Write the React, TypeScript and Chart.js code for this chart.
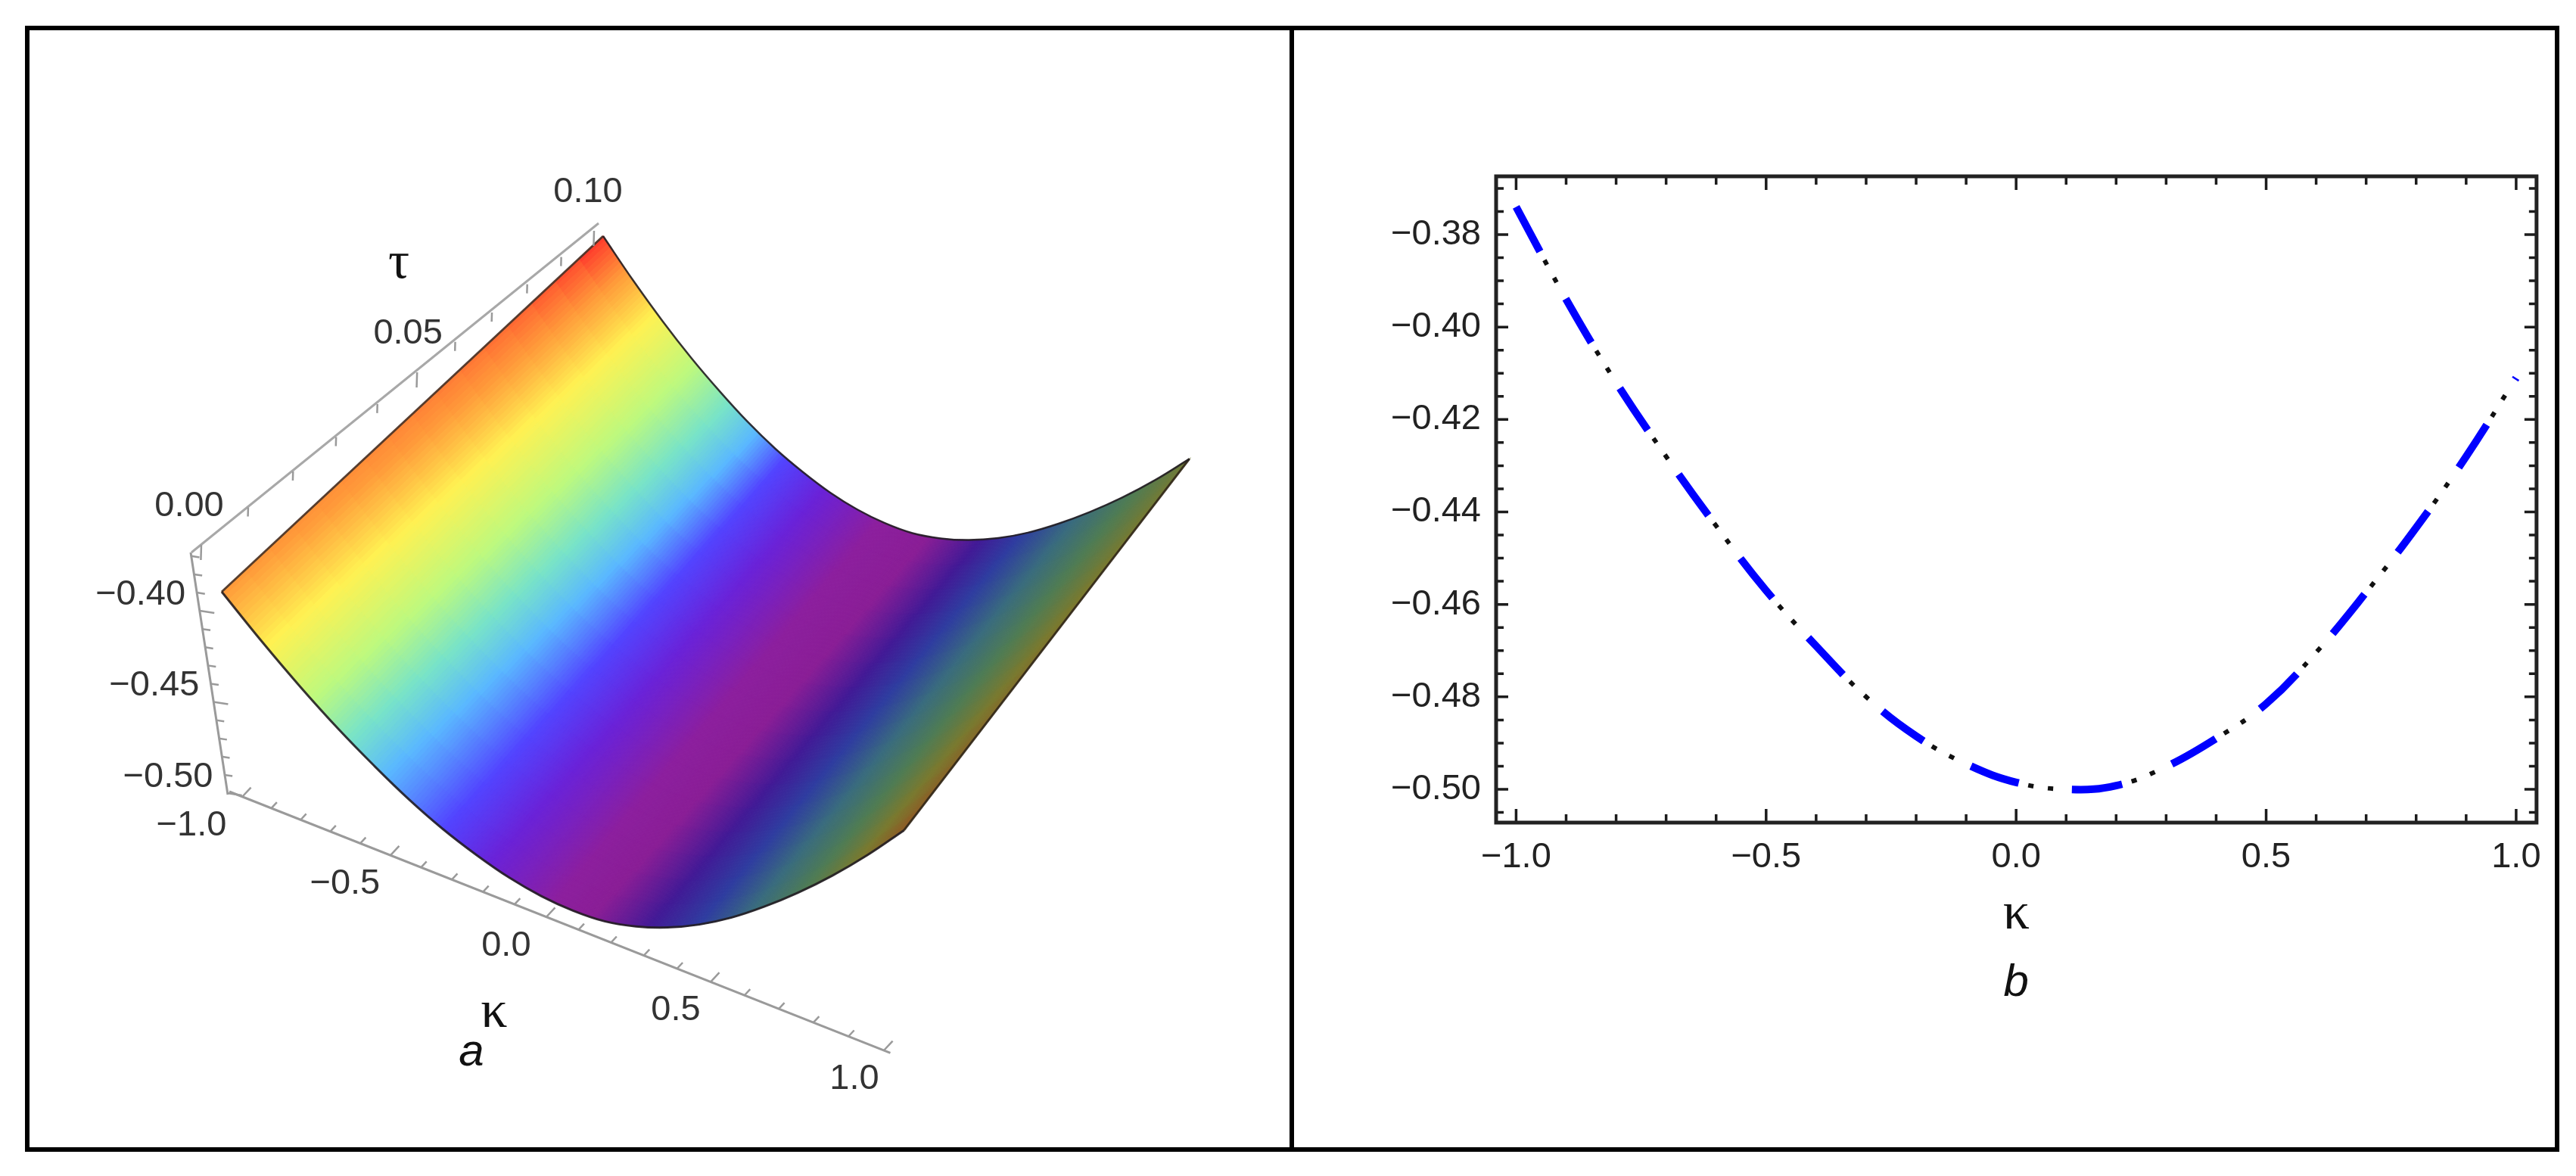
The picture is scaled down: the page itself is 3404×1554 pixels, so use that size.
import React, { useEffect, useRef } from "react";
import { Chart, registerables } from "chart.js";

Chart.register(...registerables);

// ---------- data ----------
const curveKappa = [-1, -0.9, -0.8, -0.7, -0.6, -0.5, -0.4, -0.3, -0.2, -0.1, 0, 0.1, 0.2, 0.3, 0.4, 0.5, 0.6, 0.7, 0.8, 0.9, 1];
const curveValue = [-0.374, -0.394, -0.412, -0.428, -0.443, -0.457, -0.469, -0.48, -0.4885, -0.4945, -0.4985, -0.5, -0.4992, -0.4951, -0.489, -0.4815, -0.4704, -0.4574, -0.4434, -0.428, -0.411];
const surfaceZ = [-0.374, -0.3945, -0.413, -0.4295, -0.444, -0.457, -0.468, -0.477, -0.4845, -0.49, -0.4935, -0.495, -0.4937, -0.4903, -0.4848, -0.4772, -0.4675, -0.4562, -0.4432, -0.4282, -0.411];
const tauRange = [0, 0.1];
const kappaAxisTicks = [-1, -0.9, -0.8, -0.7, -0.6, -0.5, -0.4, -0.3, -0.2, -0.1, 0, 0.1, 0.2, 0.3, 0.4, 0.5, 0.6, 0.7, 0.8, 0.9, 1];
const tauAxisTicks = [0, 0.01, 0.02, 0.03, 0.04, 0.05, 0.06, 0.07, 0.08, 0.09, 0.1];
const zAxisTicks = [-0.37, -0.38, -0.39, -0.4, -0.41, -0.42, -0.43, -0.44, -0.45, -0.46, -0.47, -0.48, -0.49, -0.5];
const kappaAxisLabels = [-1, -0.5, 0, 0.5, 1];
const tauAxisLabels = [0, 0.05, 0.1];
const zAxisLabels = [-0.4, -0.45, -0.5];

// colour bands of the surface: where each band sits along kappa on the two edges
const bandColors = ["#FF2E2A", "#FF9A3A", "#FFF152", "#BDF97E", "#78E3C8", "#5AB8FF", "#5244FF", "#6A22D8", "#8C1F9E", "#8A1E96", "#421A96", "#2F3DA0", "#3A6C7E", "#4F7C55", "#7A7A30", "#8F5A25"];
const bandsAtTauMin = [-1.3, -1, -0.89, -0.77, -0.67, -0.57, -0.4, -0.26, -0.06, 0.06, 0.24, 0.4, 0.56, 0.72, 0.87, 1];
const bandsAtTauMax = [-1, -0.92, -0.82, -0.68, -0.56, -0.46, -0.36, -0.22, -0.02, 0.16, 0.34, 0.48, 0.66, 0.84, 1.05, 1.3];

const SANS = '"Liberation Sans"';
const SERIF = '"Liberation Serif"';
const LABEL_COLOR = "#333333";

// ---------- camera of the 3D view (kappa, tau, z) -> view units ----------
const lerp = (a: number, b: number, t: number) => a + (b - a) * t;
const cam = {
  a: [293, 782], // kappa -1, tau min
  b: [1204, 1004], // kappa 1, tau min
  c: [797, 312], // kappa -1, tau max
  d: [1587, 524], // kappa 1, tau max
  nadir: [850, 4500],
  drop: [0.72, 0.56],
  zRef: -0.374,
};
function project(k: number, tau: number, z: number): [number, number] {
  const t = (k + 1) / 2;
  const w = (tau - tauRange[0]) / (tauRange[1] - tauRange[0]);
  const qx = lerp(lerp(cam.a[0], cam.b[0], t), lerp(cam.c[0], cam.d[0], t), w);
  const qy = lerp(lerp(cam.a[1], cam.b[1], t), lerp(cam.c[1], cam.d[1], t), w);
  const d = lerp(cam.drop[0], cam.drop[1], w) * (cam.zRef - z);
  return [qx + (cam.nadir[0] - qx) * d, qy + (cam.nadir[1] - qy) * d];
}
function zAt(k: number) {
  const n = surfaceZ.length;
  const f = Math.min(n - 1 - 1e-6, Math.max(0, (k - curveKappa[0]) / 0.1));
  const i = Math.floor(f);
  const u = f - i;
  const p1 = surfaceZ[i];
  const p2 = surfaceZ[i + 1];
  const p0 = i > 0 ? surfaceZ[i - 1] : 2 * p1 - p2;
  const p3 = i + 2 < n ? surfaceZ[i + 2] : 2 * p2 - p1;
  return 0.5 * (2 * p1 + (p2 - p0) * u + (2 * p0 - 5 * p1 + 4 * p2 - p3) * u * u + (3 * p1 - p0 - 3 * p2 + p3) * u * u * u);
}
const rgb = (h: string) => [1, 3, 5].map((i) => parseInt(h.slice(i, i + 2), 16));
const bandRgb = bandColors.map(rgb);
function colorAt(k: number, tau: number) {
  const w = tau / tauRange[1];
  const stops = bandsAtTauMin.map((v, i) => lerp(v, bandsAtTauMax[i], w));
  let i = 0;
  while (i < stops.length - 2 && k > stops[i + 1]) i++;
  const u = Math.max(0, Math.min(1, (k - stops[i]) / (stops[i + 1] - stops[i])));
  const a = bandRgb[i];
  const b = bandRgb[i + 1];
  return `rgb(${Math.round(lerp(a[0], b[0], u))},${Math.round(lerp(a[1], b[1], u))},${Math.round(lerp(a[2], b[2], u))})`;
}

// 3D axes: ends in view units, plus a perspective ratio along the axis
const axisPoint = (from: number[], to: number[], u: number, r: number): [number, number] => {
  const p = u / (u + r * (1 - u));
  return [lerp(from[0], to[0], p), lerp(from[1], to[1], p)];
};
const kappaAxis = (k: number) => axisPoint([320, 1053], [1168, 1388], (k + 1) / 2, 1.11);
const tauAxis = (t: number) => axisPoint([266, 720], [785, 305], t / 0.1, 0.82);
const zAxis = (z: number): [number, number] => {
  const u = (-0.368 - z) / (-0.368 + 0.5);
  return [lerp(252, 300, u), lerp(730, 1048, u)];
};

const fmt = (v: number, d: number) => v.toFixed(d).replace("-", "\u2212");
const isMultiple = (v: number, s: number) => Math.abs(v / s - Math.round(v / s)) < 1e-6;

const surfacePlugin = {
  id: "surface",
  beforeDatasetsDraw(chart: any) {
    const { ctx, scales } = chart;
    const NK = 240;
    const NT = 16;
    const px = (k: number, tau: number) => {
      const p = project(k, tau, zAt(k));
      return [scales.x.getPixelForValue(p[0]), scales.y.getPixelForValue(p[1])];
    };
    ctx.save();
    ctx.lineWidth = 1.2;
    for (let i = 0; i < NK; i++) {
      const k0 = -1 + (2 * i) / NK;
      const k1 = -1 + (2 * (i + 1)) / NK;
      for (let j = 0; j < NT; j++) {
        const t0 = (tauRange[1] * j) / NT;
        const t1 = (tauRange[1] * (j + 1)) / NT;
        const col = colorAt((k0 + k1) / 2, (t0 + t1) / 2);
        const q = [px(k0, t0), px(k1, t0), px(k1, t1), px(k0, t1)];
        ctx.beginPath();
        ctx.moveTo(q[0][0], q[0][1]);
        for (let m = 1; m < 4; m++) ctx.lineTo(q[m][0], q[m][1]);
        ctx.closePath();
        ctx.fillStyle = col;
        ctx.strokeStyle = col;
        ctx.fill();
        ctx.stroke();
      }
    }
    ctx.restore();
  },
  afterDatasetsDraw(chart: any) {
    const { ctx, scales } = chart;
    const X = (v: number) => scales.x.getPixelForValue(v);
    const Y = (v: number) => scales.y.getPixelForValue(v);
    const tick = (p: number[], dir: number[], len: number) => {
      ctx.beginPath();
      ctx.moveTo(X(p[0]), Y(p[1]));
      ctx.lineTo(X(p[0] + dir[0] * len), Y(p[1] + dir[1] * len));
      ctx.stroke();
    };
    ctx.save();
    ctx.strokeStyle = "#9a9a9a";
    ctx.lineWidth = 2.5;
    kappaAxisTicks.forEach((k) => tick(kappaAxis(k), [0.68, -0.73], isMultiple(k, 0.5) ? 17 : 11));
    tauAxisTicks.forEach((t) => tick(tauAxis(t), [-0.03, 1], isMultiple(t, 0.05) ? 20 : 12));
    zAxisTicks.forEach((z) => tick(zAxis(z), [0.98, 0.15], isMultiple(z, 0.05) ? 20 : 11));
    ctx.textAlign = "center";
    ctx.textBaseline = "middle";
    ctx.fillStyle = LABEL_COLOR;
    ctx.font = `47px ${SANS}`;
    kappaAxisLabels.forEach((k) => {
      const p = kappaAxis(k);
      ctx.fillText(fmt(k, 1), X(p[0] + lerp(-67, -39, (k + 1) / 2)), Y(p[1] + 38));
    });
    tauAxisLabels.forEach((t) => {
      const p = tauAxis(t);
      ctx.fillText(fmt(t, 2), X(p[0] + lerp(-16, -8, t / 0.1)), Y(p[1] - 51));
    });
    zAxisLabels.forEach((z) => {
      const p = zAxis(z);
      ctx.fillText(fmt(z, 2), X(p[0] - 78), Y(p[1] - 21));
    });
    ctx.fillStyle = "#111";
    ctx.font = `70px ${SERIF}`;
    ctx.fillText("\u03C4", X(527), Y(349));
    ctx.fillText("\u03BA", X(653), Y(1339));
    ctx.font = `italic 60px ${SANS}`;
    ctx.fillText("a", X(623), Y(1391));
    ctx.restore();
  },
};

const framePlugin = {
  id: "frameTicks",
  afterDatasetsDraw(chart: any) {
    const { ctx, chartArea: a, scales } = chart;
    ctx.save();
    ctx.strokeStyle = "#1c1c1c";
    ctx.lineWidth = 3.5;
    scales.x.ticks.forEach((t: any) => {
      const p = scales.x.getPixelForValue(t.value);
      const l = isMultiple(t.value, 0.5) ? 18 : 11;
      ctx.beginPath();
      ctx.moveTo(p, a.top);
      ctx.lineTo(p, a.top + l);
      ctx.moveTo(p, a.bottom);
      ctx.lineTo(p, a.bottom - l);
      ctx.stroke();
    });
    scales.y.ticks.forEach((t: any) => {
      const p = scales.y.getPixelForValue(t.value);
      const l = isMultiple(t.value, 0.02) ? 16 : 10;
      ctx.beginPath();
      ctx.moveTo(a.left, p);
      ctx.lineTo(a.left + l, p);
      ctx.moveTo(a.right, p);
      ctx.lineTo(a.right - l, p);
      ctx.stroke();
    });
    ctx.lineWidth = 5;
    ctx.strokeStyle = "#222";
    ctx.strokeRect(a.left, a.top, a.right - a.left, a.bottom - a.top);
    ctx.fillStyle = "#111";
    ctx.textAlign = "center";
    ctx.textBaseline = "middle";
    ctx.font = `italic 60px ${SANS}`;
    ctx.fillText("b", scales.x.getPixelForValue(0), 1259);
    ctx.restore();
  },
};

const edge = (pts: [number, number][], color: string, width: number, tension: number) => ({
  data: pts.map((p) => ({ x: p[0], y: p[1] })),
  showLine: true,
  pointRadius: 0,
  borderColor: color,
  borderWidth: width,
  tension,
  fill: false,
});

function makeLeft(canvas: HTMLCanvasElement) {
  const W = canvas.width;
  const H = canvas.height;
  const tMin = tauRange[0];
  const tMax = tauRange[1];
  const ek = curveKappa[0];
  const eK = curveKappa[curveKappa.length - 1];
  return new Chart(canvas, {
    type: "scatter",
    data: {
      datasets: [
        edge(curveKappa.map((k, i) => project(k, tMin, surfaceZ[i])), "rgba(35,30,35,0.9)", 3, 0.4),
        edge(curveKappa.map((k, i) => project(k, tMax, surfaceZ[i])), "rgba(35,30,35,0.9)", 2.5, 0.4),
        edge([project(ek, tMin, surfaceZ[0]), project(ek, tMax, surfaceZ[0])], "rgba(70,50,40,0.9)", 3, 0),
        edge([project(eK, tMin, surfaceZ[20]), project(eK, tMax, surfaceZ[20])], "rgba(50,40,25,0.9)", 3, 0),
        edge([[303, 1046], kappaAxis(1.018)], "#9a9a9a", 3, 0),
        edge([[253, 730], [791, 295]], "#a8a8a8", 3, 0),
        edge([[252, 730], [301, 1050]], "#9a9a9a", 3, 0),
      ] as any,
    },
    options: {
      responsive: false,
      animation: false,
      devicePixelRatio: 1,
      layout: { padding: 0 },
      plugins: { legend: { display: false }, tooltip: { enabled: false } },
      scales: {
        x: { type: "linear", min: 0, max: W, display: false },
        y: { type: "linear", min: 0, max: H, reverse: true, display: false },
      },
    } as any,
    plugins: [surfacePlugin],
  });
}

function makeRight(canvas: HTMLCanvasElement) {
  const pts = curveKappa.map((k, i) => ({ x: k, y: curveValue[i] }));
  return new Chart(canvas, {
    type: "scatter",
    data: {
      datasets: [
        {
          data: pts,
          showLine: true,
          pointRadius: 0,
          borderColor: "#0000ff",
          borderWidth: 10,
          borderCapStyle: "butt",
          borderDash: [67, 71],
          tension: 0.4,
        },
        {
          data: pts,
          showLine: true,
          pointRadius: 0,
          borderColor: "#111111",
          borderWidth: 6,
          borderCapStyle: "butt",
          borderDash: [7, 19.4, 7, 104.6],
          borderDashOffset: 58,
          tension: 0.4,
        },
      ] as any,
    },
    options: {
      responsive: false,
      animation: false,
      devicePixelRatio: 1,
      layout: { padding: { left: 0, right: 22, top: 193, bottom: 0 } },
      plugins: { legend: { display: false }, tooltip: { enabled: false } },
      scales: {
        x: {
          type: "linear",
          min: -1.04,
          max: 1.0408,
          afterFit: (s: any) => {
            s.height = 429;
          },
          grid: { display: false, drawTicks: false },
          border: { display: false },
          title: {
            display: true,
            text: "\u03BA",
            color: "#111",
            font: { family: "Liberation Serif", size: 70 },
            padding: { top: 0, bottom: 265 },
          },
          ticks: {
            stepSize: 0.1,
            includeBounds: false,
            autoSkip: false,
            maxRotation: 0,
            padding: 18,
            color: "#222",
            font: { family: "Liberation Sans", size: 47 },
            callback: (v: any) => (isMultiple(Number(v), 0.5) ? fmt(Number(v), 1) : ""),
          },
        },
        y: {
          type: "linear",
          min: -0.5072,
          max: -0.3674,
          afterFit: (s: any) => {
            s.width = 267;
          },
          grid: { display: false, drawTicks: false },
          border: { display: false },
          ticks: {
            stepSize: 0.005,
            includeBounds: false,
            autoSkip: false,
            padding: 20,
            color: "#222",
            font: { family: "Liberation Sans", size: 47 },
            callback: (v: any) => (isMultiple(Number(v), 0.02) ? fmt(Number(v), 2) : ""),
          },
        },
      },
    } as any,
    plugins: [framePlugin],
  });
}

export default function App() {
  const left = useRef<HTMLCanvasElement>(null);
  const right = useRef<HTMLCanvasElement>(null);
  useEffect(() => {
    const a = makeLeft(left.current!);
    const b = makeRight(right.current!);
    return () => {
      a.destroy();
      b.destroy();
    };
  }, []);
  const box: React.CSSProperties = { position: "absolute", boxSizing: "border-box" };
  return (
    <div style={{ position: "absolute", left: 0, top: 0, width: 3404, height: 1554, background: "#fff", overflow: "hidden" }}>
      <canvas ref={left} width={1704} height={1554} style={{ position: "absolute", left: 0, top: 0, width: 1704, height: 1554 }} />
      <canvas ref={right} width={1666} height={1476} style={{ position: "absolute", left: 1710, top: 40, width: 1666, height: 1476 }} />
      <div style={{ ...box, left: 33, top: 34, width: 3349, height: 1488, border: "6px solid #000" }} />
      <div style={{ ...box, left: 1704, top: 34, width: 6, height: 1488, background: "#000" }} />
    </div>
  );
}
